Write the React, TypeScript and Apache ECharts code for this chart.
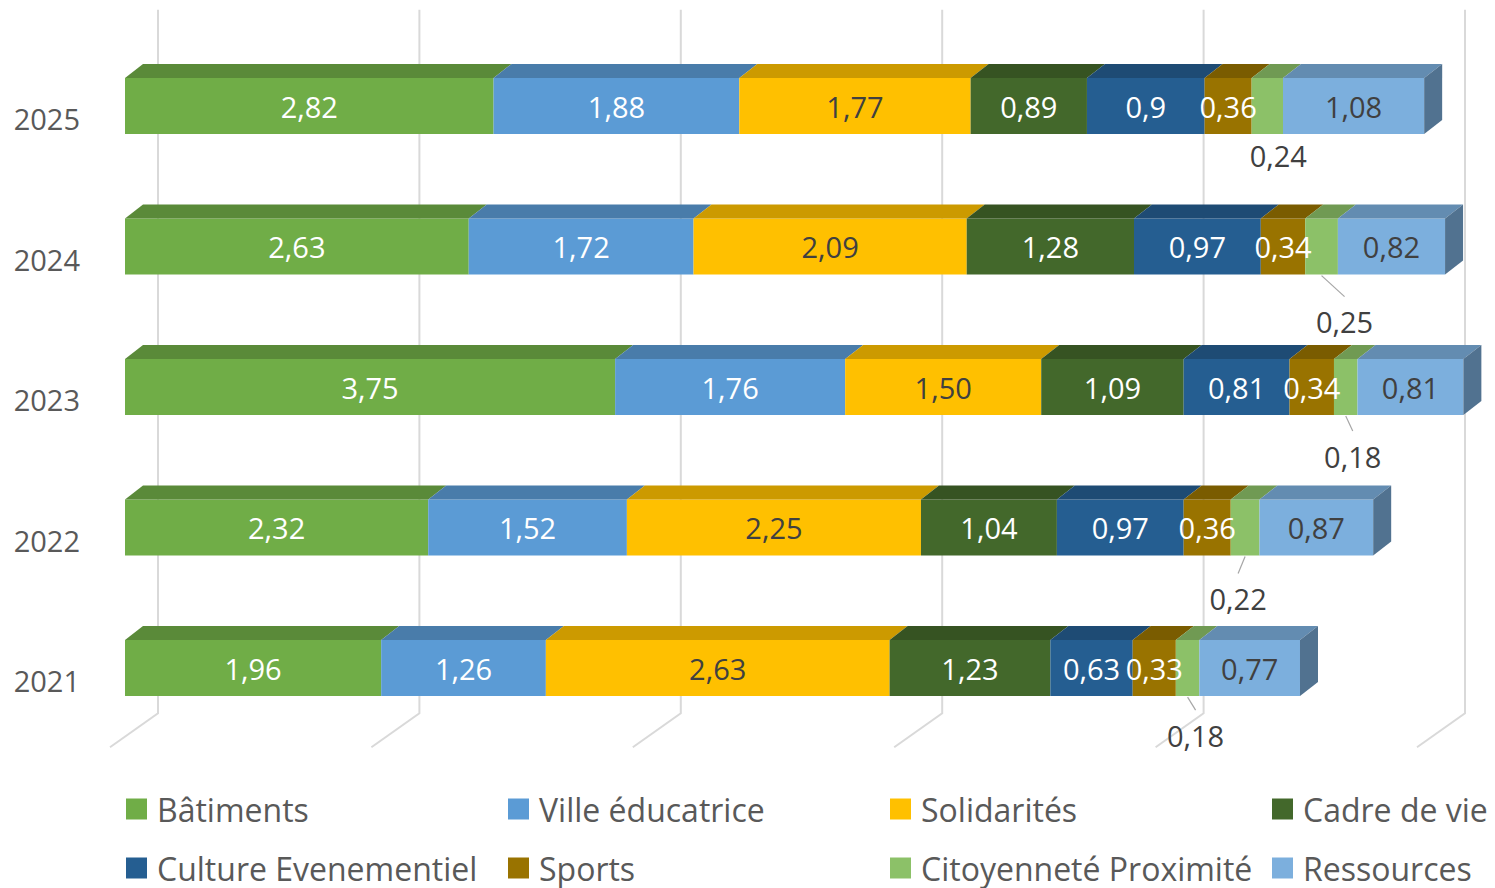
import React, { useEffect, useRef } from "react";
import * as echarts from "echarts";

// ---- Data (values as printed in the chart, French decimal format) ----
const YEARS = ["2021", "2022", "2023", "2024", "2025"];
const BATIMENTS = ["1,96", "2,32", "3,75", "2,63", "2,82"];
const VILLE_EDUCATRICE = ["1,26", "1,52", "1,76", "1,72", "1,88"];
const SOLIDARITES = ["2,63", "2,25", "1,50", "2,09", "1,77"];
const CADRE_DE_VIE = ["1,23", "1,04", "1,09", "1,28", "0,89"];
const CULTURE_EVENEMENTIEL = ["0,63", "0,97", "0,81", "0,97", "0,9"];
const SPORTS = ["0,33", "0,36", "0,34", "0,34", "0,36"];
const CITOYENNETE_PROXIMITE = ["0,18", "0,22", "0,18", "0,25", "0,24"];
const RESSOURCES = ["0,77", "0,87", "0,81", "0,82", "1,08"];
const X_TICKS = [0, 2, 4, 6, 8, 10];

// ---- Styling ----
const FONT = '"Open Sans", "Noto Sans", sans-serif';
const SERIES = [
  { name: "Bâtiments", values: BATIMENTS, color: "#70AD47", text: "#FFFFFF" },
  { name: "Ville éducatrice", values: VILLE_EDUCATRICE, color: "#5B9BD5", text: "#FFFFFF" },
  { name: "Solidarités", values: SOLIDARITES, color: "#FFC000", text: "#404040" },
  { name: "Cadre de vie", values: CADRE_DE_VIE, color: "#43682B", text: "#FFFFFF" },
  { name: "Culture Evenementiel", values: CULTURE_EVENEMENTIEL, color: "#255E91", text: "#FFFFFF" },
  { name: "Sports", values: SPORTS, color: "#997300", text: "#FFFFFF" },
  { name: "Citoyenneté Proximité", values: CITOYENNETE_PROXIMITE, color: "#8CC168", text: "#404040", outside: true },
  { name: "Ressources", values: RESSOURCES, color: "#7CAFDD", text: "#404040" },
];
// callout label shift (dx from segment centre, dy below bar bottom), per year 2021..2025
const CALLOUT_SHIFT = [
  [8, 39],
  [-7, 43],
  [7, 41],
  [23, 47],
  [11, 21],
];
const DX = 18;
const DY = 14;
const BAR_RATIO = 0.4;

const parse = (s: string) => parseFloat(s.replace(",", "."));

function shade(hex: string, f: number) {
  const n = parseInt(hex.slice(1), 16);
  const r = Math.round(((n >> 16) & 255) * f);
  const g = Math.round(((n >> 8) & 255) * f);
  const b = Math.round((n & 255) * f);
  return `rgb(${r},${g},${b})`;
}

export default function App() {
  const ref = useRef<HTMLDivElement>(null);

  useEffect(() => {
    if (!ref.current) return;
    const chart = echarts.init(ref.current, undefined, { renderer: "svg" });

    const cumul = YEARS.map(() => 0);
    const barSeries = SERIES.map((s, si) => {
      const data = YEARS.map((_, yi) => {
        const v = parse(s.values[yi]);
        const start = cumul[yi];
        cumul[yi] += v;
        return [start, start + v, yi];
      });
      const isLast = si === SERIES.length - 1;
      const topColor = shade(s.color, 0.8);
      const sideColor = shade(s.color, 0.65);
      return {
        type: "custom",
        name: s.name,
        coordinateSystem: "cartesian2d",
        itemStyle: { color: s.color },
        encode: { x: [0, 1], y: 2 },
        z: 2,
        data,
        renderItem: (params: any, api: any) => {
          const x0 = api.value(0);
          const x1 = api.value(1);
          const yi = api.value(2);
          const p0 = api.coord([x0, yi]);
          const p1 = api.coord([x1, yi]);
          const h = api.size([0, 1])[1] * BAR_RATIO;
          const top = p0[1] - h / 2;
          const bottom = top + h;
          const children: any[] = [
            {
              type: "rect",
              shape: { x: p0[0], y: top, width: p1[0] - p0[0], height: h },
              style: { fill: s.color },
            },
            {
              type: "polygon",
              shape: {
                points: [
                  [p0[0], top],
                  [p1[0], top],
                  [p1[0] + DX, top - DY],
                  [p0[0] + DX, top - DY],
                ],
              },
              style: { fill: topColor },
            },
          ];
          if (isLast) {
            children.push({
              type: "polygon",
              shape: {
                points: [
                  [p1[0], top],
                  [p1[0] + DX, top - DY],
                  [p1[0] + DX, bottom - DY],
                  [p1[0], bottom],
                ],
              },
              style: { fill: sideColor },
            });
          }
          const cx = (p0[0] + p1[0]) / 2;
          const label = s.values[yi];
          if (s.outside) {
            const [sx, sy] = CALLOUT_SHIFT[yi];
            const lx = cx + sx;
            const ly = bottom + sy;
            if (ly - 25 > bottom + 4) {
              children.push({
                type: "line",
                shape: { x1: cx, y1: bottom + 1, x2: lx, y2: ly - 25 },
                style: { stroke: "#A6A6A6", lineWidth: 1.2 },
                z2: 90,
              });
            }
            children.push({
              type: "text",
              z2: 100,
              style: {
                x: lx,
                y: ly,
                text: label,
                fill: "#404040",
                fontSize: 29,
                fontFamily: FONT,
                textAlign: "center",
                textVerticalAlign: "middle",
                align: "center",
                verticalAlign: "middle",
              },
            });
          } else {
            children.push({
              type: "text",
              z2: 100,
              style: {
                x: cx,
                y: (top + bottom) / 2,
                text: label,
                fill: s.text,
                fontSize: 29,
                fontFamily: FONT,
                textAlign: "center",
                textVerticalAlign: "middle",
                align: "center",
                verticalAlign: "middle",
              },
            });
          }
          return { type: "group", children };
        },
      };
    });

    const gridSeries = {
      type: "custom",
      name: "_grid",
      coordinateSystem: "cartesian2d",
      encode: { x: 0 },
      z: 1,
      silent: true,
      data: X_TICKS.map((v) => [v]),
      renderItem: (params: any, api: any) => {
        const cs = params.coordSys;
        const p = api.coord([api.value(0), 0]);
        const top = cs.y - 26;
        const bottom = cs.y + cs.height - 25;
        return {
          type: "polyline",
          shape: {
            points: [
              [p[0] + 33, top],
              [p[0] + 33, bottom],
              [p[0] - 15, bottom + 34],
            ],
          },
          style: { stroke: "#D9D9D9", lineWidth: 2, fill: null },
        };
      },
    };

    const colLefts = [126, 508, 890, 1272];
    const rowTops = [793, 852];
    const legends = SERIES.map((s, i) => ({
      data: [s.name],
      left: colLefts[i % 4],
      top: rowTops[Math.floor(i / 4)],
      padding: 0,
      itemWidth: 21,
      itemHeight: 21,
      icon: "rect",
      selectedMode: false,
      textStyle: {
        color: "#595959",
        fontSize: 32,
        fontFamily: FONT,
        lineHeight: 32,
        padding: [0, 0, 0, 5],
      },
    }));

    chart.setOption({
      animation: false,
      backgroundColor: "#FFFFFF",
      grid: { left: 125, width: 1307, top: 35.75, height: 702.5, containLabel: false },
      xAxis: {
        type: "value",
        min: 0,
        max: 10,
        interval: 2,
        show: false,
      },
      yAxis: {
        type: "category",
        data: YEARS,
        axisLine: { show: false },
        axisTick: { show: false },
        splitLine: { show: false },
        axisLabel: {
          color: "#595959",
          fontSize: 29,
          fontFamily: FONT,
          margin: 45,
          verticalAlign: "top",
          lineHeight: 25,
        },
      },
      legend: legends,
      series: [gridSeries, ...barSeries],
    });

    return () => chart.dispose();
  }, []);

  return (
    <div
      ref={ref}
      style={{ position: "absolute", left: 0, top: 0, width: 1495, height: 888 }}
    />
  );
}
